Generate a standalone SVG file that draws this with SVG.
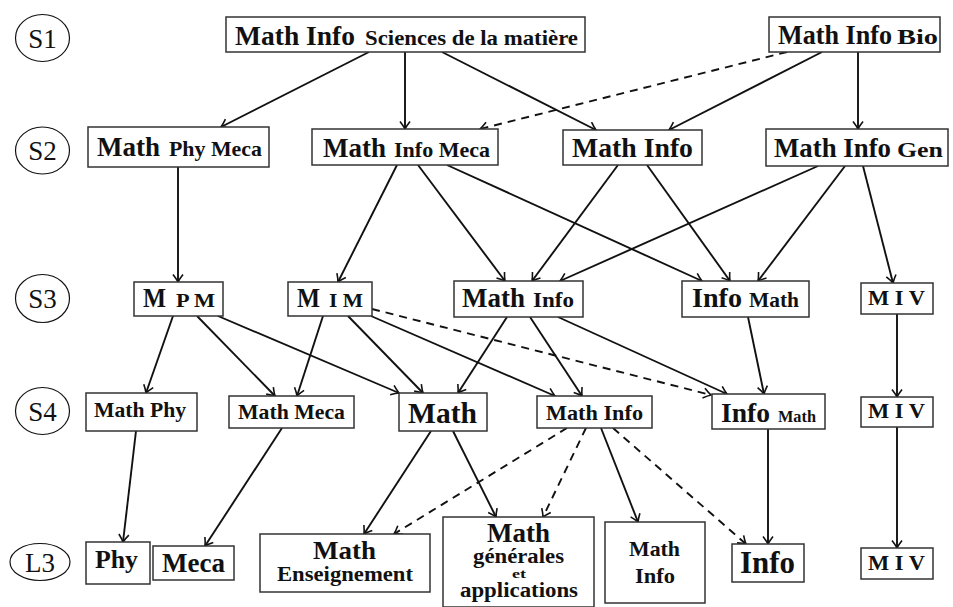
<svg xmlns="http://www.w3.org/2000/svg" width="953" height="607" viewBox="0 0 953 607">
<defs>
<style>
.box{fill:#fff;stroke:#333;stroke-width:1.5}
.lab{fill:#fff;stroke:#111;stroke-width:1.2}
.t{font-family:"Liberation Serif","Times New Roman",serif;font-weight:bold;fill:#111}
.c{font-family:"Liberation Serif","Times New Roman",serif;font-size:27px;fill:#111;text-anchor:middle}
.e{fill:none;stroke:#111;stroke-width:1.9;marker-end:url(#arr)}
.d{stroke-dasharray:8 6}
</style>
<marker id="arr" viewBox="-9 -6 11 12" refX="0" refY="0" markerWidth="11" markerHeight="12" markerUnits="userSpaceOnUse" orient="auto">
<path d="M-7.5,-5 Q-3,-1.5 0,0 Q-3,1.5 -7.5,5" fill="none" stroke="#111" stroke-width="1.6" stroke-dasharray="none"/>
</marker>
</defs>
<rect width="953" height="607" fill="#fff"/>

<g id="levels">
<ellipse class="lab" cx="42.5" cy="38" rx="27" ry="23.5"/><text class="c" x="42.5" y="47.5">S1</text>
<ellipse class="lab" cx="42.5" cy="150.5" rx="27" ry="23.5"/><text class="c" x="42.5" y="160">S2</text>
<ellipse class="lab" cx="42.5" cy="298.5" rx="27" ry="24"/><text class="c" x="42.5" y="308">S3</text>
<ellipse class="lab" cx="42.5" cy="411" rx="27" ry="23.5"/><text class="c" x="42.5" y="420.5">S4</text>
<ellipse class="lab" cx="40" cy="562" rx="30" ry="18.5"/><text class="c" x="40" y="571.5">L3</text>
</g>

<g id="connectors">
<line class="e" x1="369" y1="52" x2="221" y2="127"/>
<line class="e" x1="405" y1="52" x2="405" y2="129"/>
<line class="e" x1="442" y1="52" x2="596" y2="130"/>
<line class="e d" x1="787" y1="52" x2="480" y2="129"/>
<line class="e" x1="822" y1="52" x2="669" y2="130"/>
<line class="e" x1="858" y1="52" x2="858" y2="129"/>
<line class="e" x1="178" y1="167" x2="178" y2="282"/>
<line class="e" x1="397" y1="165" x2="338" y2="282"/>
<line class="e" x1="418" y1="165" x2="505" y2="281"/>
<line class="e" x1="447" y1="165" x2="702" y2="281"/>
<line class="e" x1="618" y1="165" x2="532" y2="281"/>
<line class="e" x1="647" y1="165" x2="730" y2="281"/>
<line class="e" x1="818" y1="166" x2="560" y2="281"/>
<line class="e" x1="845" y1="166" x2="758" y2="281"/>
<line class="e" x1="863" y1="166" x2="893" y2="283"/>
<line class="e" x1="173" y1="316" x2="146" y2="393"/>
<line class="e" x1="197" y1="316" x2="275" y2="396"/>
<line class="e" x1="218" y1="316" x2="399" y2="393"/>
<line class="e" x1="323" y1="316" x2="297" y2="396"/>
<line class="e" x1="348" y1="316" x2="423" y2="393"/>
<line class="e" x1="371" y1="316" x2="555" y2="396"/>
<line class="e d" x1="372" y1="309" x2="711" y2="395"/>
<line class="e" x1="507" y1="317" x2="458" y2="393"/>
<line class="e" x1="530" y1="317" x2="582" y2="396"/>
<line class="e" x1="558" y1="317" x2="727" y2="394"/>
<line class="e" x1="748" y1="317" x2="764" y2="394"/>
<line class="e" x1="897" y1="314" x2="897" y2="397"/>
<line class="e" x1="136" y1="431" x2="123" y2="542"/>
<line class="e" x1="282" y1="428" x2="205" y2="546"/>
<line class="e" x1="431" y1="431" x2="364" y2="534"/>
<line class="e" x1="453" y1="431" x2="496" y2="517"/>
<line class="e d" x1="567" y1="428" x2="394" y2="534"/>
<line class="e d" x1="586" y1="428" x2="543" y2="517"/>
<line class="e" x1="601" y1="428" x2="638" y2="522"/>
<line class="e d" x1="613" y1="428" x2="746" y2="544"/>
<line class="e" x1="768" y1="429" x2="768" y2="544"/>
<line class="e" x1="897" y1="427" x2="897" y2="548"/>
</g>

<g id="s1-smi"><rect class="box" x="226" y="17" width="359" height="35"/>
<text class="t" x="235" y="45" font-size="27" textLength="120" lengthAdjust="spacingAndGlyphs">Math Info</text>
<text class="t" x="365" y="45" font-size="22" textLength="213" lengthAdjust="spacingAndGlyphs">Sciences de la matière</text></g>
<g id="s1-bio"><rect class="box" x="769" y="17" width="171" height="35"/>
<text class="t" x="778" y="44" font-size="27" textLength="114" lengthAdjust="spacingAndGlyphs">Math Info</text>
<text class="t" x="897" y="44" font-size="22" textLength="41" lengthAdjust="spacingAndGlyphs">Bio</text></g>

<g id="s2-mpm"><rect class="box" x="88" y="127" width="181" height="40"/>
<text class="t" x="97" y="156" font-size="27" textLength="63" lengthAdjust="spacingAndGlyphs">Math</text>
<text class="t" x="169" y="156" font-size="22" textLength="93" lengthAdjust="spacingAndGlyphs">Phy Meca</text></g>
<g id="s2-mim"><rect class="box" x="312" y="129" width="186" height="36"/>
<text class="t" x="323" y="157" font-size="27" textLength="63" lengthAdjust="spacingAndGlyphs">Math</text>
<text class="t" x="394" y="157" font-size="22" textLength="96" lengthAdjust="spacingAndGlyphs">Info Meca</text></g>
<g id="s2-mi"><rect class="box" x="563" y="130" width="139" height="35"/>
<text class="t" x="572" y="157" font-size="27" textLength="121" lengthAdjust="spacingAndGlyphs">Math Info</text></g>
<g id="s2-mig"><rect class="box" x="766" y="129" width="182" height="37"/>
<text class="t" x="774" y="157" font-size="27" textLength="117" lengthAdjust="spacingAndGlyphs">Math Info</text>
<text class="t" x="897" y="157" font-size="22" textLength="46" lengthAdjust="spacingAndGlyphs">Gen</text></g>

<g id="s3-mpm"><rect class="box" x="134" y="282" width="89" height="34"/>
<text class="t" x="143" y="307" font-size="27" textLength="23" lengthAdjust="spacingAndGlyphs">M</text>
<text class="t" x="176" y="307" font-size="18" textLength="39" lengthAdjust="spacingAndGlyphs">P M</text></g>
<g id="s3-mim"><rect class="box" x="288" y="282" width="84" height="34"/>
<text class="t" x="297" y="307" font-size="27" textLength="23" lengthAdjust="spacingAndGlyphs">M</text>
<text class="t" x="329" y="307" font-size="18" textLength="34" lengthAdjust="spacingAndGlyphs">I M</text></g>
<g id="s3-mi"><rect class="box" x="454" y="281" width="129" height="36"/>
<text class="t" x="462" y="307" font-size="27" textLength="63" lengthAdjust="spacingAndGlyphs">Math</text>
<text class="t" x="533" y="307" font-size="22" textLength="41" lengthAdjust="spacingAndGlyphs">Info</text></g>
<g id="s3-im"><rect class="box" x="682" y="281" width="127" height="36"/>
<text class="t" x="692" y="307" font-size="27" textLength="50" lengthAdjust="spacingAndGlyphs">Info</text>
<text class="t" x="749" y="307" font-size="22" textLength="50" lengthAdjust="spacingAndGlyphs">Math</text></g>
<g id="s3-miv"><rect class="box" x="861" y="283" width="72" height="31"/>
<text class="t" x="868" y="305" font-size="20" textLength="57" lengthAdjust="spacingAndGlyphs">M I V</text></g>

<g id="s4-mp"><rect class="box" x="86" y="393" width="111" height="38"/>
<text class="t" x="94" y="417" font-size="22" textLength="92" lengthAdjust="spacingAndGlyphs">Math Phy</text></g>
<g id="s4-mm"><rect class="box" x="229" y="396" width="125" height="32"/>
<text class="t" x="238" y="419" font-size="22" textLength="107" lengthAdjust="spacingAndGlyphs">Math Meca</text></g>
<g id="s4-m"><rect class="box" x="399" y="393" width="88" height="38"/>
<text class="t" x="408" y="423" font-size="30" textLength="69" lengthAdjust="spacingAndGlyphs">Math</text></g>
<g id="s4-mi"><rect class="box" x="537" y="396" width="115" height="32"/>
<text class="t" x="546" y="420" font-size="22" textLength="97" lengthAdjust="spacingAndGlyphs">Math Info</text></g>
<g id="s4-im"><rect class="box" x="712" y="394" width="113" height="35"/>
<text class="t" x="721" y="422" font-size="27" textLength="49" lengthAdjust="spacingAndGlyphs">Info</text>
<text class="t" x="778" y="422" font-size="16" textLength="38" lengthAdjust="spacingAndGlyphs">Math</text></g>
<g id="s4-miv"><rect class="box" x="861" y="397" width="72" height="30"/>
<text class="t" x="868" y="418" font-size="20" textLength="57" lengthAdjust="spacingAndGlyphs">M I V</text></g>

<g id="l3-phy"><rect class="box" x="86" y="542" width="64" height="42"/>
<text class="t" x="95" y="568" font-size="26" textLength="43" lengthAdjust="spacingAndGlyphs">Phy</text></g>
<g id="l3-meca"><rect class="box" x="153" y="546" width="81" height="34"/>
<text class="t" x="162" y="572" font-size="27" textLength="63" lengthAdjust="spacingAndGlyphs">Meca</text></g>
<g id="l3-mens"><rect class="box" x="260" y="534" width="170" height="58"/>
<text class="t" x="313" y="559" font-size="26" textLength="63" lengthAdjust="spacingAndGlyphs">Math</text>
<text class="t" x="277" y="581" font-size="21" textLength="136" lengthAdjust="spacingAndGlyphs">Enseignement</text></g>
<g id="l3-mga"><rect class="box" x="443" y="517" width="151" height="90"/>
<text class="t" x="487" y="542" font-size="27" textLength="63" lengthAdjust="spacingAndGlyphs">Math</text>
<text class="t" x="473" y="563" font-size="20" textLength="91" lengthAdjust="spacingAndGlyphs">générales</text>
<text class="t" x="512" y="578" font-size="12" textLength="14" lengthAdjust="spacingAndGlyphs">et</text>
<text class="t" x="460" y="597" font-size="20" textLength="118" lengthAdjust="spacingAndGlyphs">applications</text></g>
<g id="l3-mi"><rect class="box" x="605" y="522" width="100" height="81"/>
<text class="t" x="629" y="556" font-size="22" textLength="51" lengthAdjust="spacingAndGlyphs">Math</text>
<text class="t" x="635" y="583" font-size="22" textLength="40" lengthAdjust="spacingAndGlyphs">Info</text></g>
<g id="l3-info"><rect class="box" x="732" y="544" width="72" height="38"/>
<text class="t" x="740" y="573" font-size="31" textLength="55" lengthAdjust="spacingAndGlyphs">Info</text></g>
<g id="l3-miv"><rect class="box" x="861" y="548" width="72" height="31"/>
<text class="t" x="868" y="570" font-size="20" textLength="57" lengthAdjust="spacingAndGlyphs">M I V</text></g>
</svg>
